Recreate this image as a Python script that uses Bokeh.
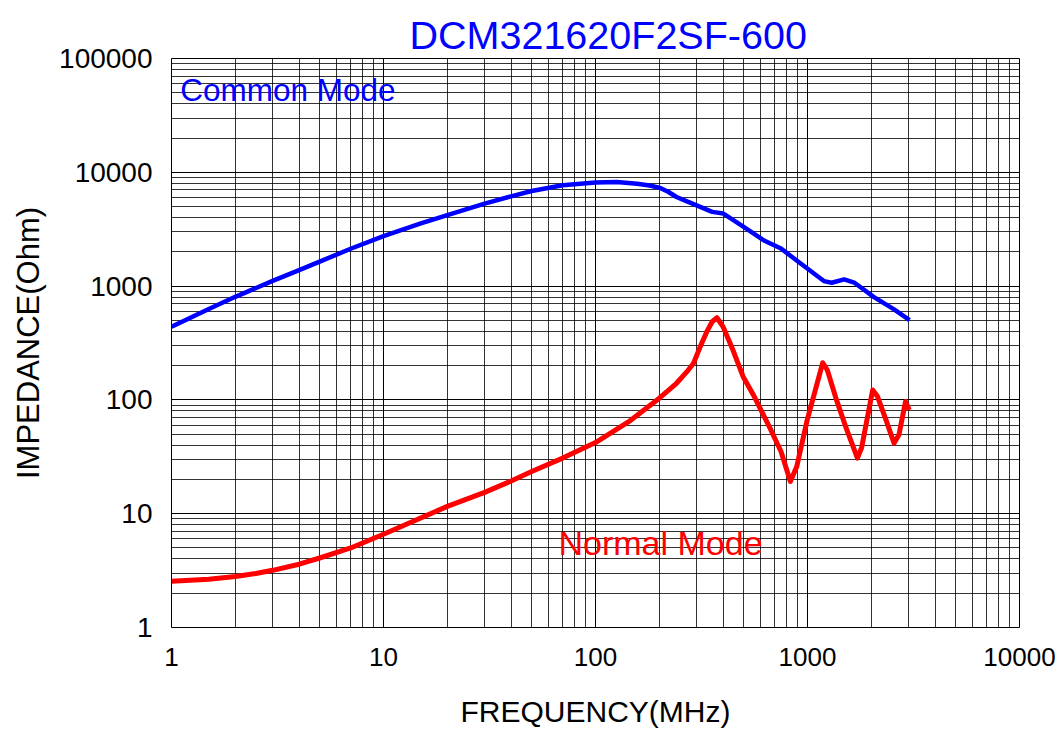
from bokeh.plotting import figure
from bokeh.models import FixedTicker, PrintfTickFormatter, Range1d, Label, Title
from bokeh.embed import file_html
from bokeh.resources import INLINE

# ---- data ----
cm_freq = [1, 1.5, 2, 3, 4, 5, 7, 10, 15, 20, 30, 40, 50, 70, 100, 126, 157,
           180, 202, 220, 241, 270, 300, 355, 401, 500, 620, 750, 925, 1195,
           1300, 1490, 1660, 2050, 2560, 3030]
cm_z = [440, 630, 805, 1110, 1380, 1640, 2130, 2750, 3550, 4200, 5310, 6150,
        6850, 7690, 8130, 8210, 7940, 7650, 7280, 6750, 6070, 5550, 5130, 4490,
        4340, 3320, 2530, 2140, 1585, 1107, 1070, 1145, 1075, 805, 624, 503]

nm_freq = [1, 1.5, 2, 2.5, 3, 4, 5, 7, 10, 20, 30, 40, 50, 70, 100, 146, 200,
           241, 270, 290, 312, 335, 355, 374, 400, 445, 497, 555, 670, 750, 830,
           890, 997, 1180, 1240, 1370, 1530, 1720, 1800, 2030, 2140, 2345, 2560,
           2700, 2900, 3020]
nm_z = [2.55, 2.66, 2.81, 2.98, 3.18, 3.6, 4.08, 5.0, 6.6, 11.6, 15.4, 19.4,
        23.5, 30.8, 42.2, 65.8, 103.5, 140, 177, 210, 294, 398, 486, 527, 438,
        274, 160, 111, 55, 35.2, 19.2, 26, 66.8, 212, 183, 100, 55, 30.8, 38,
        122, 107, 66.8, 41.7, 49.4, 96.7, 81.5]

x_major = [1, 10, 100, 1000, 10000]
y_major = [1, 10, 100, 1000, 10000, 100000]

title_text = "DCM321620F2SF-600"
x_label = "FREQUENCY(MHz)"
y_label = "IMPEDANCE(Ohm)"

x_minor = [k * 10 ** d for d in range(0, 4) for k in range(2, 10)]
y_minor = [k * 10 ** d for d in range(0, 5) for k in range(2, 10)]

FONT = "Liberation Sans"

p = figure(width=1062, height=731, x_axis_type="log", y_axis_type="log",
           x_range=Range1d(1, 10000), y_range=Range1d(1, 100000),
           output_backend="svg", toolbar_location=None,
           min_border_left=171, min_border_right=43,
           min_border_top=58, min_border_bottom=104)
p.background_fill_color = "white"
p.border_fill_color = "white"
p.outline_line_color = "black"
p.outline_line_width = 1

p.title = Title(text=title_text, align="left", offset=238, vertical_align="top",
                standoff=0, text_font=FONT, text_font_size="39.5px",
                text_color="#0000ff", text_font_style="normal")

xt = FixedTicker(ticks=x_major, minor_ticks=x_minor)
yt = FixedTicker(ticks=y_major, minor_ticks=y_minor)
p.xaxis.ticker = xt
p.yaxis.ticker = yt
p.xgrid.ticker = xt
p.ygrid.ticker = yt

for ax in (p.xaxis, p.yaxis):
    ax.formatter = PrintfTickFormatter(format="%d")
    ax.axis_line_color = None
    ax.major_tick_line_color = None
    ax.minor_tick_line_color = None
    ax.major_tick_out = 0
    ax.major_tick_in = 0
    ax.minor_tick_out = 0
    ax.minor_tick_in = 0
    ax.major_label_text_font = FONT
    ax.major_label_text_color = "black"
    ax.axis_label_text_font = FONT
    ax.axis_label_text_font_style = "normal"
    ax.axis_label_text_color = "black"

p.xaxis.axis_label = x_label
p.yaxis.axis_label = y_label
p.xaxis.major_label_text_font_size = "26px"
p.yaxis.major_label_text_font_size = "28px"
p.xaxis.axis_label_text_font_size = "30px"
p.yaxis.axis_label_text_font_size = "31px"
p.xaxis.major_label_standoff = 20
p.yaxis.major_label_standoff = 19
p.xaxis.axis_label_standoff = 26
p.yaxis.axis_label_standoff = 10

for g in (p.xgrid, p.ygrid):
    g.grid_line_color = "black"
    g.grid_line_width = 1
    g.minor_grid_line_color = "black"
    g.minor_grid_line_alpha = 0.8
    g.minor_grid_line_width = 1

p.line(cm_freq, cm_z, line_color="#0000ff", line_width=4.5, line_join="round")
p.line(nm_freq, nm_z, line_color="#ff0000", line_width=5, line_join="round")

p.add_layout(Label(x=1.1, y=53000, text="Common Mode", text_font=FONT,
                   text_font_size="31.5px", text_color="#0000ff",
                   text_baseline="alphabetic", text_align="left"))
p.add_layout(Label(x=66.9, y=5.5, text="Normal Mode", text_font=FONT,
                   text_font_size="34px", text_color="#ff0000",
                   text_baseline="alphabetic", text_align="left"))

open("out.html", "w").write(file_html(p, INLINE))
